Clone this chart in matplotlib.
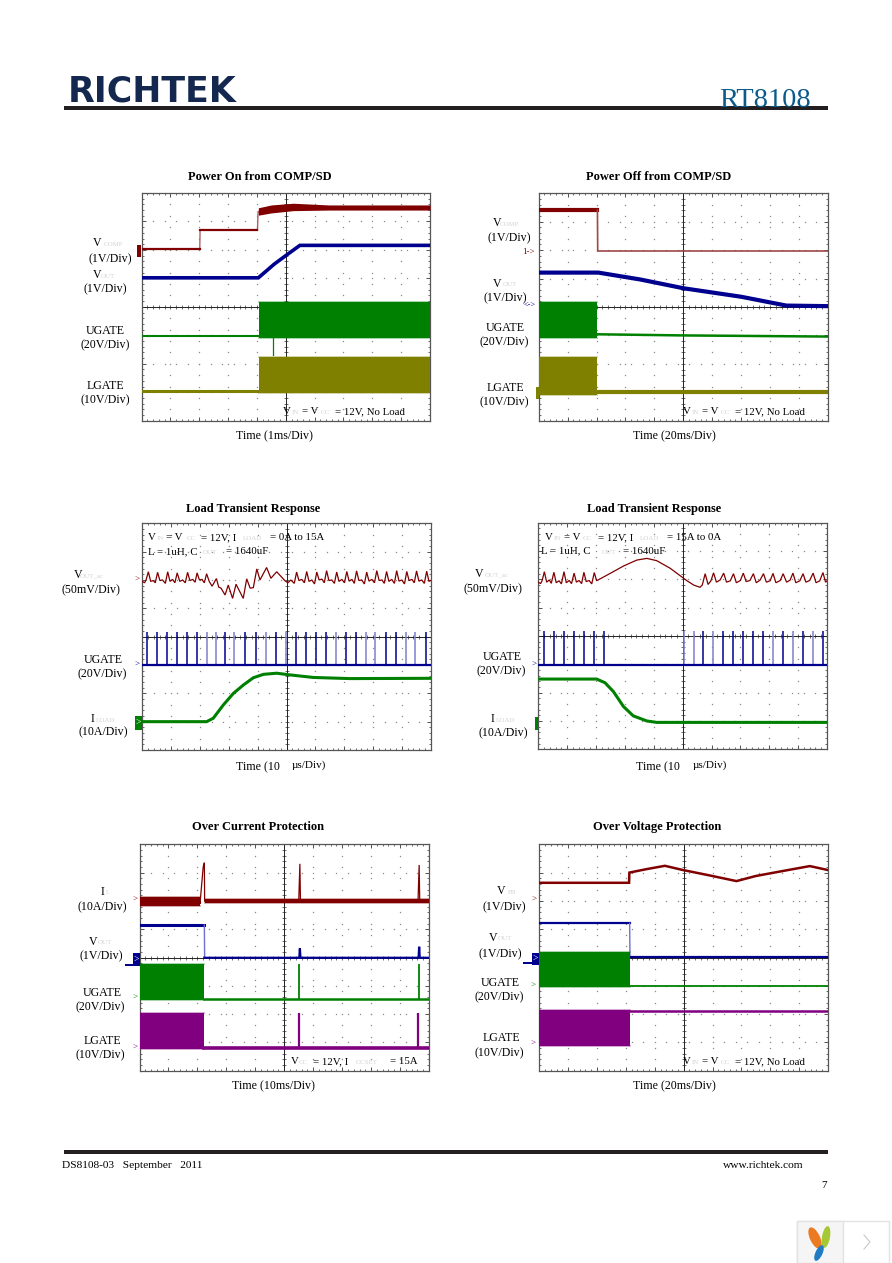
import matplotlib
matplotlib.use('Agg')
import numpy as np
from matplotlib import pyplot as plt
from matplotlib.patches import Ellipse, Rectangle

plt.rcParams['font.family'] = ['Liberation Serif', 'DejaVu Serif']

RED = '#800000'
BLUE = '#00008f'
GREEN = '#008000'
OLIVE = '#808000'
PURPLE = '#800080'
FAINT = '#d4d4d4'

# all traces in scope divisions: time 0..10, level 0..8

# Power On
p1_comp_t = [0, 2.02, 2.03, 4.02, 4.04, 4.06]
p1_comp_v = [6.04, 6.04, 6.69, 6.69, 7.35, 7.35]
p1_comp_band_t = [4.05, 4.5, 5.26, 6.5, 10]
p1_comp_band_lo = [7.22, 7.3, 7.38, 7.4, 7.4]
p1_comp_band_hi = [7.48, 7.58, 7.64, 7.58, 7.58]
p1_vout_t = [0, 4.05, 4.6, 5.0, 5.49, 10]
p1_vout_v = [5.02, 5.02, 5.5, 5.8, 6.16, 6.16]
p1_ugate_t = [0, 4.08]
p1_ugate_v = [2.99, 2.99]
p1_ugate_burst = [4.08, 10, 2.92, 4.16]
p1_lgate_t = [0, 4.06]
p1_lgate_v = [1.04, 1.04]
p1_lgate_burst = [4.06, 10, 0.96, 2.25]

# Power Off
p2_comp_t = [0, 2.03, 2.04, 10]
p2_comp_v = [7.41, 7.41, 5.97, 5.97]
p2_vout_t = [0, 2.06, 3.5, 5.0, 7.0, 8.56, 10]
p2_vout_v = [5.21, 5.21, 4.97, 4.66, 4.36, 4.05, 4.03]
p2_ugate_t = [2.03, 5, 10]
p2_ugate_v = [3.04, 3.0, 2.96]
p2_ugate_burst = [0, 2.03, 2.9, 4.16]
p2_lgate_t = [2.03, 10]
p2_lgate_v = [1.0, 1.0]
p2_lgate_burst = [0, 2.03, 0.9, 2.23]

# Load transient, 0A to 15A
p3_vout_t = [0, .08, .13, .21, .29, .38, .45, .53, .61, .70, .80, .88, .96, 1.05, 1.13, 1.21, 1.30, 1.40, 1.49,
             1.57, 1.65, 1.75, 1.83, 1.90, 1.98, 2.07, 2.15, 2.23, 2.32, 2.42, 2.57, 2.65, 2.73, 2.87, 2.98, 3.13,
             3.25, 3.50, 3.62, 3.74, 3.85, 3.97, 4.08, 4.31, 4.46, 4.66, 4.95,
             5.05, 5.15, 5.27, 5.35, 5.43, 5.53, 5.62, 5.70, 5.78, 5.88, 5.97, 6.05, 6.13, 6.23, 6.31, 6.39, 6.47,
             6.57, 6.66, 6.74, 6.82, 6.92, 7.01, 7.09, 7.17, 7.27, 7.35, 7.43, 7.51, 7.61, 7.70, 7.78, 7.86, 7.96,
             8.05, 8.13, 8.21, 8.31, 8.39, 8.47, 8.55, 8.65, 8.74, 8.82, 8.90, 9.0, 9.09, 9.17, 9.25, 9.35, 9.43,
             9.51, 9.59, 9.69, 9.78, 9.86, 9.94, 10]
p3_vout_v = [5.95, 5.9, 6.0, 6.29, 5.95, 5.98, 5.9, 6.27, 5.98, 6.0, 5.88, 6.29, 5.95, 6.02, 5.9, 6.25, 5.95, 6.0, 5.9,
             6.27, 5.98, 6.02, 5.92, 6.25, 6.0, 6.02, 5.9, 6.22, 5.95, 5.78, 6.05, 5.75, 5.71, 5.47, 5.82, 5.35,
             5.85, 5.35, 6.04, 5.71, 5.73, 6.39, 6.0, 6.44, 6.06, 6.29, 5.97,
             5.9, 6.0, 5.88, 6.28, 5.98, 6.02, 5.9, 6.3, 5.95, 6.0, 5.86, 6.28, 6.0, 6.03, 5.9, 6.33, 5.98,
             6.0, 5.88, 6.28, 5.95, 6.02, 5.9, 6.3, 5.96, 6.02, 5.88, 6.32, 5.98, 6.0, 5.86, 6.28, 5.96,
             6.02, 5.9, 6.33, 5.98, 6.0, 5.88, 6.3, 5.95, 6.02, 5.88, 6.33, 5.96, 6.0, 5.86, 6.3, 5.98,
             6.02, 5.9, 6.32, 5.96, 6.0, 5.88, 6.31, 5.95, 5.98]
p3_ugate_pulses = [.15, .50, .87, 1.21, 1.55, 1.88, 2.86, 3.56, 3.93, 4.64, 5.33, 5.66, 6.02, 6.36, 7.06, 7.40, 8.44,
                   8.79, 9.83]
p3_ugate_faint = [2.23, 2.54, 3.18, 4.29, 4.98, 6.71, 7.75, 8.08, 9.13, 9.47]
p3_iload_t = [0, 2.23, 2.46, 2.81, 3.16, 3.5, 3.85, 4.2, 4.66, 5.12, 5.93, 7.2, 10]
p3_iload_v = [1.0, 1.0, 1.12, 1.59, 2.0, 2.29, 2.55, 2.67, 2.71, 2.65, 2.56, 2.52, 2.53]

# Load transient, 15A to 0A
p4_vout_t = [0, .08, .13, .21, .29, .38, .45, .54, .62, .72, .80, .89, .97, 1.07, 1.15, 1.24, 1.32, 1.41, 1.50,
             1.58, 1.66, 1.76, 1.85, 1.94, 2.02, 2.49, 2.95, 3.41, 3.76, 4.1, 4.57, 5.03, 5.15, 5.38, 5.6, 5.68,
             5.78, 5.88, 5.98, 6.07, 6.17, 6.3, 6.42, 6.52, 6.65, 6.76, 6.86, 7.0, 7.1, 7.2, 7.33, 7.45, 7.55, 7.68,
             7.8, 7.9, 8.03, 8.13, 8.23, 8.38, 8.48, 8.6, 8.72, 8.82, 8.92, 9.06, 9.17, 9.27, 9.4, 9.52, 9.62, 9.75,
             9.86, 9.95, 10]
p4_vout_v = [5.9, 5.85, 5.95, 6.27, 5.9, 5.98, 5.86, 6.25, 5.88, 5.95, 5.84, 6.27, 5.88, 5.96, 5.85, 6.22, 5.9, 5.96,
             5.85, 6.25, 5.92, 5.96, 5.84, 6.24, 5.95, 6.21, 6.47, 6.68, 6.74, 6.66, 6.39, 6.04, 5.95, 5.8, 5.72, 5.8,
             6.2, 5.82, 5.95, 6.23, 5.9, 5.98, 6.22, 5.9, 5.95, 6.2, 5.88, 5.96, 6.22, 5.92, 5.96, 6.2, 5.88, 5.97,
             6.2, 5.9, 5.95, 6.21, 5.88, 5.96, 6.2, 5.9, 5.97, 6.22, 5.88, 5.95, 6.2, 5.9, 5.96, 6.22, 5.88, 5.95,
             6.24, 5.9, 5.95]
p4_ugate_pulses = [.21, .54, .89, 1.24, 1.58, 1.94, 2.29, 5.72, 6.39, 6.73, 7.08, 7.43, 7.77, 8.47, 9.17, 9.86]
p4_ugate_faint = [5.06, 5.38, 6.05, 8.13, 8.82, 9.51]
p4_iload_t = [0, 2.02, 2.31, 2.6, 2.95, 3.29, 3.76, 4.1, 10]
p4_iload_v = [2.48, 2.48, 2.35, 2.04, 1.51, 1.18, 1.0, 0.95, 0.95]

# Over current
p5_il_t = [0, 2.09, 2.09, 2.2, 2.24, 2.25, 5.5, 5.54, 5.56, 9.62, 9.66, 9.68, 10]
p5_il_v = [5.98, 5.98, 5.9, 7.2, 7.35, 5.98, 5.98, 7.31, 5.98, 5.98, 7.27, 5.98, 5.98]
p5_il_band = [0, 2.09, 5.82, 6.15]
p5_il_thin = [2.25, 10, 5.91, 6.05]
p5_vout_t = [0, 2.24, 2.25, 5.52, 5.54, 5.56, 9.64, 9.66, 9.68, 10]
p5_vout_v = [5.15, 5.15, 3.99, 3.99, 4.32, 3.99, 3.99, 4.38, 3.99, 3.99]
p5_ugate_t = [2.24, 10]
p5_ugate_v = [2.54, 2.54]
p5_ugate_burst = [0, 2.24, 2.5, 3.77]
p5_ugate_spikes = [5.52, 9.66]
p5_lgate_t = [2.24, 10]
p5_lgate_v = [0.8, 0.8]
p5_lgate_burst = [0, 2.24, 0.75, 2.03]
p5_lgate_spikes = [5.52, 9.62]

# Over voltage
p6_fb_t = [0, 3.11, 3.12, 3.7, 4.35, 4.98, 5.9, 6.83, 7.5, 8.4, 9.37, 10]
p6_fb_v = [6.64, 6.64, 7.0, 7.12, 7.24, 7.09, 6.9, 6.70, 6.88, 7.05, 7.23, 7.09]
p6_vout_t = [0, 3.13, 3.14, 10]
p6_vout_v = [5.21, 5.21, 4.03, 4.03]
p6_ugate_t = [3.13, 10]
p6_ugate_v = [2.99, 2.99]
p6_ugate_burst = [0, 3.13, 2.97, 4.18]
p6_lgate_t = [3.13, 10]
p6_lgate_v = [2.11, 2.11]
p6_lgate_burst = [0, 3.13, 0.87, 2.14]

fig = plt.figure(figsize=(8.92, 12.63), dpi=100)


def scope(x0, x1, y0, y1):
    ax = fig.add_axes([x0 / 892, 1 - y1 / 1263, (x1 - x0) / 892, (y1 - y0) / 1263])
    ax.set_xlim(0, 10)
    ax.set_ylim(0, 8)
    ax.set_xticks(np.arange(0, 11))
    ax.set_yticks(np.arange(0, 9))
    ax.set_xticks(np.arange(0, 10.01, 0.2), minor=True)
    ax.set_yticks(np.arange(0, 8.01, 0.2), minor=True)
    ax.tick_params(which='major', direction='in', top=True, right=True, length=3, width=0.6, color='#333333',
                   labelbottom=False, labelleft=False)
    ax.tick_params(which='minor', direction='in', top=True, right=True, length=1.5, width=0.5, color='#333333')
    for side in ax.spines.values():
        side.set_linewidth(0.9)
        side.set_color('#555555')
    # dotted graticule
    for gx in range(1, 10):
        ax.plot(np.full(21, gx), np.arange(0, 8.01, 0.4), ls='none', marker='s', ms=0.9, mew=0, color='#8a8a8a')
    for gy in range(1, 8):
        ax.plot(np.arange(0, 10.01, 0.4), np.full(26, gy), ls='none', marker='s', ms=0.9, mew=0, color='#8a8a8a')
    ax.axvline(5, color='#222222', lw=0.7)
    ax.axhline(4, color='#222222', lw=0.7)
    ax.plot(np.arange(0, 10.01, 0.2), np.full(51, 4), ls='none', marker='|', ms=2.4, mew=0.45, color='#222222')
    ax.plot(np.full(41, 5), np.arange(0, 8.01, 0.2), ls='none', marker='_', ms=2.4, mew=0.45, color='#222222')
    return ax


def trace(ax, t, v, color, lw=1.3):
    ax.plot(t, v, color=color, lw=lw, solid_joinstyle='miter', zorder=3)


def burst(ax, box, color):
    ax.fill_between(box[:2], box[2], box[3], color=color, lw=0, zorder=3)
    ax.plot(box[:2], [box[3], box[3]], color=color, lw=1.2, alpha=0.4, zorder=3)
    ax.plot(box[:2], [box[2], box[2]], color=color, lw=1.2, alpha=0.4, zorder=3)


def gates(ax, pulses, faint, color, base, top):
    ax.vlines(faint, base, top, color='#7f7fd0', lw=1.1, zorder=3)
    ax.vlines(pulses, base, top, color=color, lw=1.1, zorder=3)
    ax.plot([0, 10], [base, base], color=color, lw=1.6, zorder=3)


ax1 = scope(141.5, 430, 193, 420.7)
trace(ax1, p1_comp_t, p1_comp_v, '#b06060', 1.0)
trace(ax1, p1_comp_t[:2], p1_comp_v[:2], RED, 1.6)
trace(ax1, p1_comp_t[2:4], p1_comp_v[2:4], RED, 1.6)
ax1.fill_between(p1_comp_band_t, p1_comp_band_lo, p1_comp_band_hi, color=RED, lw=0, zorder=3)
trace(ax1, p1_vout_t, p1_vout_v, BLUE, 2.6)
trace(ax1, p1_ugate_t, p1_ugate_v, GREEN, 1.5)
burst(ax1, p1_ugate_burst, GREEN)
ax1.plot([4.57, 4.57], [2.3, 2.9], color=GREEN, lw=0.9, zorder=3)
trace(ax1, p1_lgate_t, p1_lgate_v, OLIVE, 2.2)
burst(ax1, p1_lgate_burst, OLIVE)

ax2 = scope(538.7, 828, 193.3, 420.7)
trace(ax2, p2_comp_t[:2], p2_comp_v[:2], RED, 3)
trace(ax2, p2_comp_t[1:], p2_comp_v[1:], '#a04848', 1.2)
trace(ax2, p2_vout_t, p2_vout_v, BLUE, 3)
trace(ax2, p2_ugate_t, p2_ugate_v, GREEN, 1.8)
burst(ax2, p2_ugate_burst, GREEN)
trace(ax2, p2_lgate_t, p2_lgate_v, OLIVE, 3)
burst(ax2, p2_lgate_burst, OLIVE)

ax3 = scope(142.3, 430.7, 523.3, 750)
trace(ax3, p3_vout_t, p3_vout_v, RED, 0.9)
gates(ax3, p3_ugate_pulses, p3_ugate_faint, BLUE, 2.99, 4.17)
trace(ax3, p3_iload_t, p3_iload_v, GREEN, 2.2)

ax4 = scope(538.3, 827, 522.7, 749.3)
trace(ax4, p4_vout_t, p4_vout_v, RED, 0.9)
gates(ax4, p4_ugate_pulses, p4_ugate_faint, BLUE, 2.98, 4.19)
trace(ax4, p4_iload_t, p4_iload_v, GREEN, 2.2)

ax5 = scope(139.5, 429, 844.3, 1070.7)
burst(ax5, p5_il_band, RED)
burst(ax5, p5_il_thin, RED)
trace(ax5, p5_il_t, p5_il_v, RED, 0.9)
trace(ax5, p5_vout_t[:2], p5_vout_v[:2], BLUE, 2.2)
ax5.plot(p5_vout_t[1:3], p5_vout_v[1:3], color='#6f6fd0', lw=1, zorder=3)
trace(ax5, p5_vout_t[2:], p5_vout_v[2:], BLUE, 1.6)
trace(ax5, p5_ugate_t, p5_ugate_v, GREEN, 1.8)
burst(ax5, p5_ugate_burst, GREEN)
ax5.vlines(p5_ugate_spikes, 2.54, 3.77, color=GREEN, lw=1.3, zorder=3)
trace(ax5, p5_lgate_t, p5_lgate_v, PURPLE, 2.6)
burst(ax5, p5_lgate_burst, PURPLE)
ax5.vlines(p5_lgate_spikes, 0.8, 2.03, color=PURPLE, lw=1.6, zorder=3)

ax6 = scope(539.3, 828, 844.3, 1070.7)
trace(ax6, p6_fb_t, p6_fb_v, RED, 1.8)
trace(ax6, p6_vout_t[:2], p6_vout_v[:2], BLUE, 1.6)
ax6.plot(p6_vout_t[1:3], p6_vout_v[1:3], color='#6f6fd0', lw=1, zorder=3)
trace(ax6, p6_vout_t[2:], p6_vout_v[2:], BLUE, 1.6)
trace(ax6, p6_ugate_t, p6_ugate_v, GREEN, 1.3)
burst(ax6, p6_ugate_burst, GREEN)
trace(ax6, p6_lgate_t, p6_lgate_v, PURPLE, 1.8)
burst(ax6, p6_lgate_burst, PURPLE)

# page furniture, in image pixels
page = fig.add_axes([0, 0, 1, 1], zorder=5)
page.set_xlim(0, 892)
page.set_ylim(1263, 0)
page.axis('off')


def say(x, y, s, size=8.6, ha='center', **kw):
    page.text(x, y, s, fontsize=size, ha=ha, va='center', color=kw.pop('color', 'black'), **kw)


def sub(x, y, s):
    page.text(x, y, s, fontsize=5, ha='center', va='center', color=FAINT)


page.add_patch(Rectangle((64, 105.5), 764, 4, color='#231f20', lw=0))
page.add_patch(Rectangle((64, 1149.5), 764, 4, color='#231f20', lw=0))
page.text(68, 101, 'RICHTEK', fontsize=25, fontweight='bold', family='DejaVu Sans', color='#14284f', va='baseline')
page.text(719, 107, 'RT8108', fontsize=20.5, color='#0a5a8a', va='baseline')
say(62, 1166, 'DS8108-03   September   2011', size=8.2, ha='left')
say(804, 1166, 'www.richtek.com', size=8.2, ha='right')
say(824, 1185, '7', size=8)

titles = ['Power On from COMP/SD', 'Power Off from COMP/SD', 'Load Transient Response', 'Load Transient Response',
          'Over Current Protection', 'Over Voltage Protection']
title_x = [260, 659, 253, 654, 258, 657]
title_y = [177, 177, 509, 509, 827, 827]
for tx, ty, s in zip(title_x, title_y, titles):
    say(tx, ty, s, size=9, fontweight='bold')

say(275, 436, 'Time (1ms/Div)')
say(674, 436, 'Time (20ms/Div)')
say(274, 1086, 'Time (10ms/Div)')
say(674, 1086, 'Time (20ms/Div)')
say(236, 767, 'Time (10', ha='left')
say(636, 767, 'Time (10', ha='left')
say(292, 765, 'µs/Div)', ha='left', size=8)
say(693, 765, 'µs/Div)', ha='left', size=8)

# left hand channel names: panel 1
say(97, 243, 'V'); sub(113, 244, 'COMP'); say(110, 259, '(1V/Div)')
say(97, 275, 'V'); sub(108, 276, 'OUT'); say(105, 289, '(1V/Div)')
say(105, 331, 'UGATE'); say(105, 345, '(20V/Div)')
say(105, 386, 'LGATE'); say(105, 400, '(10V/Div)')
# panel 2
say(497, 223, 'V'); sub(510, 224, 'COMP'); say(509, 238, '(1V/Div)')
say(497, 284, 'V'); sub(510, 285, 'OUT'); say(505, 298, '(1V/Div)')
say(505, 328, 'UGATE'); say(504, 342, '(20V/Div)')
say(505, 388, 'LGATE'); say(504, 402, '(10V/Div)')
# panel 3
say(78, 575, 'V'); sub(92, 576, 'OUT_ac'); say(91, 590, '(50mV/Div)')
say(103, 660, 'UGATE'); say(102, 674, '(20V/Div)')
say(93, 719, 'I'); sub(105, 720, 'LOAD'); say(103, 732, '(10A/Div)')
# panel 4
say(479, 574, 'V'); sub(497, 575, 'OUT_ac'); say(493, 589, '(50mV/Div)')
say(502, 657, 'UGATE'); say(501, 671, '(20V/Div)')
say(493, 719, 'I'); sub(505, 720, 'LOAD'); say(503, 733, '(10A/Div)')
# panel 5
say(103, 892, 'I'); sub(108, 893, 'L'); say(102, 907, '(10A/Div)')
say(93, 942, 'V'); sub(105, 943, 'OUT'); say(101, 956, '(1V/Div)')
say(102, 993, 'UGATE'); say(100, 1007, '(20V/Div)')
say(102, 1041, 'LGATE'); say(100, 1055, '(10V/Div)')
# panel 6
say(501, 891, 'V'); sub(512, 892, 'FB'); say(504, 907, '(1V/Div)')
say(493, 938, 'V'); sub(505, 939, 'OUT'); say(500, 954, '(1V/Div)')
say(500, 983, 'UGATE'); say(499, 997, '(20V/Div)')
say(501, 1038, 'LGATE'); say(499, 1053, '(10V/Div)')

# conditions printed inside the scope grids
for nx, ny in [(283, 411.5), (683, 412), (683, 1062)]:
    say(nx, ny, 'V', size=7.8, ha='left')
    sub(nx + 12, ny + 1, 'IN')
    say(nx + 19, ny, '= V', size=7.8, ha='left')
    sub(nx + 42, ny + 1, 'CC')
    say(nx + 52, ny, '= 12V, No Load', size=7.8, ha='left')

say(148, 537.5, 'V', size=7.8, ha='left'); sub(160, 538.5, 'IN'); say(166, 537.5, '= V', size=7.8, ha='left')
sub(191, 538.5, 'CC'); say(201, 537.5, '= 12V, I', size=7.8, ha='left'); sub(252, 538.5, 'LOAD')
say(270, 537.5, '= 0A to 15A', size=7.8, ha='left')
say(148, 551.5, 'L = 1uH, C', size=7.8, ha='left'); sub(210, 552.5, 'OUT'); say(226, 551.5, '= 1640uF', size=7.8, ha='left')

say(545, 537.5, 'V', size=7.8, ha='left'); sub(557, 538.5, 'IN'); say(564, 537.5, '= V', size=7.8, ha='left')
sub(587, 538.5, 'CC'); say(598, 537.5, '= 12V, I', size=7.8, ha='left'); sub(649, 538.5, 'LOAD')
say(667, 537.5, '= 15A to 0A', size=7.8, ha='left')
say(541, 551, 'L = 1uH, C', size=7.8, ha='left'); sub(609, 552, 'OUT'); say(623, 551, '= 1640uF', size=7.8, ha='left')

say(291, 1062, 'V', size=7.8, ha='left'); sub(303, 1063, 'CC'); say(313, 1062, '= 12V, I', size=7.8, ha='left')
sub(367, 1063, 'OCSET'); say(390, 1062, '= 15A', size=7.8, ha='left')

# channel ground markers
page.add_patch(Rectangle((137, 245), 4, 12, color=RED, lw=0))
page.add_patch(Rectangle((536, 387), 3, 12, color=OLIVE, lw=0))
page.add_patch(Rectangle((135, 716), 7, 14, color=GREEN, lw=0))
page.add_patch(Rectangle((535, 717), 3, 13, color=GREEN, lw=0))
page.add_patch(Rectangle((133, 953), 7, 13, color=BLUE, lw=0))
page.add_patch(Rectangle((125, 964), 9, 2, color=BLUE, lw=0))
page.add_patch(Rectangle((532, 953), 7, 12, color=BLUE, lw=0))
page.add_patch(Rectangle((523, 962), 9, 2, color=BLUE, lw=0))
say(138.5, 722.5, '>', size=7, color='white')
say(136.5, 959, '>', size=7, color='white')
say(535.5, 958, '>', size=7, color='white')
say(137, 580, '>', size=6.5, color=RED)
say(137, 665, '>', size=6.5, color=BLUE)
say(534, 665, '>', size=6.5, color=BLUE)
say(135, 900, '>', size=6.5, color=RED)
say(135, 998, '>', size=6.5, color=GREEN)
say(135, 1048, '>', size=6.5, color=PURPLE)
say(534, 900, '>', size=6.5, color=RED)
say(533, 986, '>', size=6.5, color=GREEN)
say(533, 1044, '>', size=6.5, color=PURPLE)
say(529, 252, '1->', size=6.5, color=RED)
say(530, 306, '<->', size=6, color=BLUE)

# viewer widget in the corner
page.add_patch(Rectangle((797, 1221), 92, 42, facecolor='white', edgecolor='#e2e2e2', lw=1))
page.add_patch(Rectangle((797, 1221), 46, 42, facecolor='#f5f5f5', edgecolor='#e2e2e2', lw=1))
page.add_patch(Ellipse((815, 1238), 10, 23, angle=-25, color='#ec7a22', lw=0))
page.add_patch(Ellipse((826, 1237), 8, 22, angle=10, color='#a6c834', lw=0))
page.add_patch(Ellipse((819, 1253), 7, 17, angle=25, color='#1f7cc4', lw=0))
page.plot([864, 870, 864], [1235, 1242, 1249], color='#c8c8c8', lw=0.8)

fig.savefig('out.png', dpi=100)
